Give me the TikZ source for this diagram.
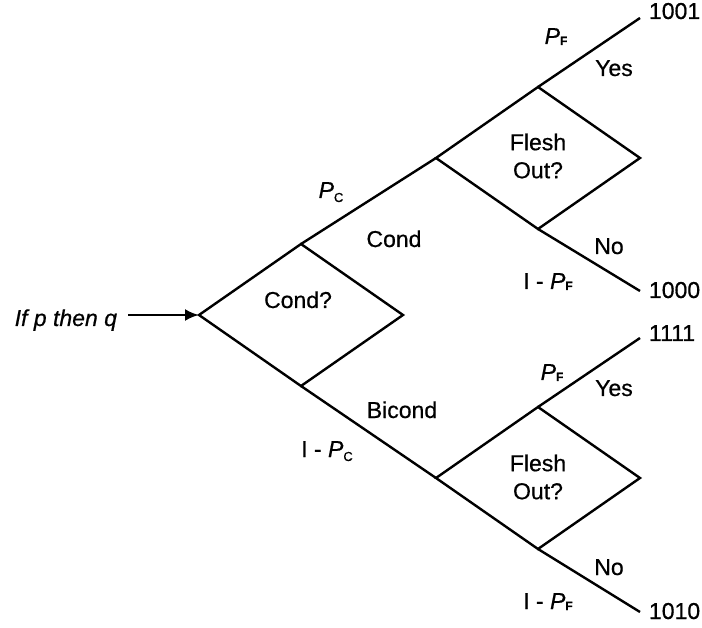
\documentclass[tikz,border=0pt]{standalone}
\usepackage{fontspec}
\setmainfont{Liberation Sans}[FakeBold=0.6]
\usetikzlibrary{shapes.geometric,arrows.meta}

% probability symbols: italic P with a small upright subscript
\newcommand{\probC}{\textit{P}\raisebox{-4pt}{\fontsize{13}{13}\selectfont C}}
\newcommand{\probF}{\textit{P}\raisebox{-1pt}{\fontsize{12}{12}\selectfont\bfseries F}}

\begin{document}
\begin{tikzpicture}[x=1pt,y=-1pt,
  every node/.style={font=\fontsize{23}{28}\selectfont, inner sep=0pt, outer sep=0pt},
  choice/.style={diamond, draw, line width=2.4pt, minimum width=204pt,
                 minimum height=142pt, inner sep=0pt, outer sep=0pt},
  branch/.style={line width=2.4pt},
  feed/.style={line width=2.5pt, -{Latex[length=14pt,width=12pt]}},
  lbl/.style={anchor=base},
  outcome/.style={anchor=base west}]
\useasboundingbox (0,0) rectangle (702,628);

% decision diamonds
\node[choice] (cond) at (301,315) {};
\node[choice] (fu)   at (538,158) {};
\node[choice] (fl)   at (538,478) {};

% free ends of the outcome branches
\coordinate (src) at (128,315);
\coordinate (e1) at (640,18);
\coordinate (e2) at (640,291);
\coordinate (e3) at (640,338);
\coordinate (e4) at (640,612);

% connectors
\draw[feed]   (src) -- (cond.west);
\draw[branch] (cond.north) -- (fu.west);
\draw[branch] (cond.south) -- (fl.west);
\draw[branch] (fu.north) -- (e1);
\draw[branch] (fu.south) -- (e2);
\draw[branch] (fl.north) -- (e3);
\draw[branch] (fl.south) -- (e4);

% texts inside the diamonds
\node[anchor=base east] (input) at (117,326) {\textit{If p then q}};
\node[lbl] (qcond) at (298,308) {Cond?};
\node[align=center] (qfu) at (538,156) {Flesh\\Out?};
\node[align=center] (qfl) at (538,477) {Flesh\\Out?};

% first split
\node[lbl] (pc)  at (331,198) {\probC};
\node[lbl] (tc)  at (394,247) {Cond};
\node[lbl] (tb)  at (402,418) {Bicond};
\node[lbl] (npc) at (327,457) {I - \probC};

% upper flesh-out split
\node[lbl] (pf1)  at (556,44)  {\probF};
\node[lbl] (ys1)  at (614,76)  {Yes};
\node[lbl] (no1)  at (609,254) {No};
\node[lbl] (npf1) at (548,289) {I - \probF};

% lower flesh-out split
\node[lbl] (pf2)  at (552,380) {\probF};
\node[lbl] (ys2)  at (614,396) {Yes};
\node[lbl] (no2)  at (609,575) {No};
\node[lbl] (npf2) at (548,609) {I - \probF};

% outcome codes
\node[outcome] (o1) at (649,19)  {1001};
\node[outcome] (o2) at (649,298) {1000};
\node[outcome] (o3) at (649,341) {1111};
\node[outcome] (o4) at (649,619) {1010};
\end{tikzpicture}
\end{document}
